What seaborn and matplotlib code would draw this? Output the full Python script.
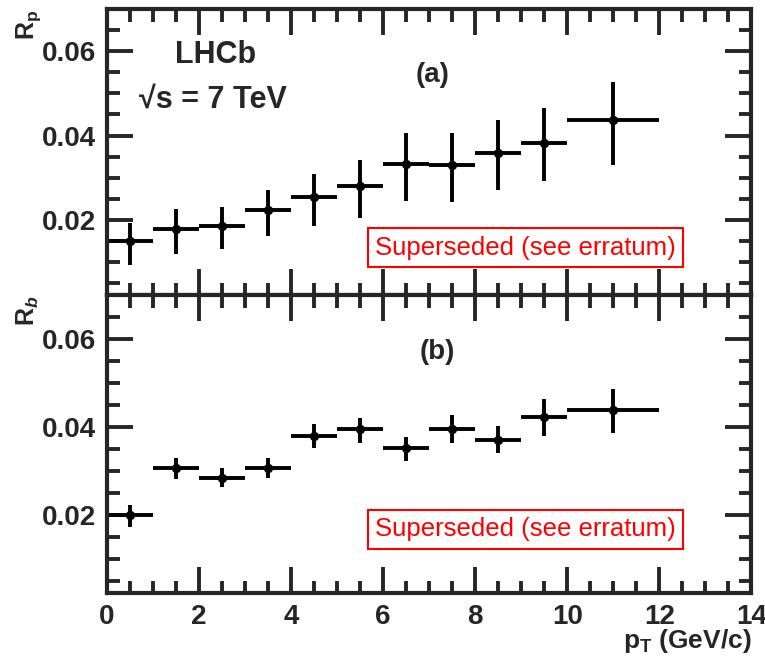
import numpy as np
import matplotlib
matplotlib.use("Agg")
import matplotlib.pyplot as plt
from matplotlib.ticker import MultipleLocator, FormatStrFormatter
import seaborn as sns

# pT bins (GeV/c)
bin_lo = [0, 1, 2, 3, 4, 5, 6, 7, 8, 9, 10]
bin_hi = [1, 2, 3, 4, 5, 6, 7, 8, 9, 10, 12]
pt_center = [0.5, 1.5, 2.5, 3.5, 4.5, 5.5, 6.5, 7.5, 8.5, 9.5, 11.0]

# panel (a): R_p
rp = [0.0150, 0.0179, 0.0185, 0.0223, 0.0254, 0.0281, 0.0332, 0.0331, 0.0359, 0.0382, 0.0437]
rp_up = [0.0193, 0.0226, 0.0231, 0.0272, 0.0310, 0.0343, 0.0406, 0.0406, 0.0437, 0.0465, 0.0527]
rp_dn = [0.0092, 0.0119, 0.0131, 0.0163, 0.0185, 0.0205, 0.0244, 0.0242, 0.0271, 0.0292, 0.0330]

# panel (b): R_b
rb = [0.0200, 0.0306, 0.0284, 0.0307, 0.0380, 0.0394, 0.0351, 0.0396, 0.0371, 0.0423, 0.0438]
rb_up = [0.0223, 0.0328, 0.0306, 0.0330, 0.0406, 0.0421, 0.0377, 0.0426, 0.0402, 0.0464, 0.0486]
rb_dn = [0.0173, 0.0281, 0.0263, 0.0284, 0.0351, 0.0364, 0.0323, 0.0364, 0.0340, 0.0379, 0.0385]

sns.set_style("ticks")
plt.rcParams['font.family'] = ['Liberation Sans', 'DejaVu Sans']
plt.rcParams['font.weight'] = 'bold'
plt.rcParams['mathtext.fontset'] = 'custom'
plt.rcParams['mathtext.rm'] = 'Liberation Sans:bold'
plt.rcParams['mathtext.it'] = 'Liberation Sans:italic:bold'
plt.rcParams['mathtext.bf'] = 'Liberation Sans:bold'

fig = plt.figure(figsize=(7.65, 6.59), dpi=100)
ax_a = fig.add_axes([0.140, 0.5524, 0.842, 0.4339])
ax_b = fig.add_axes([0.140, 0.1002, 0.842, 0.4522])


def draw_panel(ax, y, y_up, y_dn, box_y):
    x = np.array(pt_center)
    y = np.array(y)
    xerr = [x - np.array(bin_lo), np.array(bin_hi) - x]
    yerr = [y - np.array(y_dn), np.array(y_up) - y]
    ax.errorbar(x, y, xerr=xerr, yerr=yerr, fmt='none', ecolor='black',
                elinewidth=2.8, capsize=0)
    sns.scatterplot(x=x, y=y, ax=ax, color='black', s=45, edgecolor='black',
                    linewidth=0, zorder=5)
    ax.set_xlim(0, 14)
    ax.set_ylim(0.0022, 0.070)
    ax.xaxis.set_major_locator(MultipleLocator(2))
    ax.xaxis.set_minor_locator(MultipleLocator(0.5))
    ax.yaxis.set_major_locator(MultipleLocator(0.02))
    ax.yaxis.set_minor_locator(MultipleLocator(0.005))
    ax.yaxis.set_major_formatter(FormatStrFormatter('%.2f'))
    ax.tick_params(which='both', direction='in', top=True, right=True, width=2.8)
    ax.tick_params(which='major', length=19, labelsize=20, pad=8)
    ax.tick_params(which='minor', length=9)
    for s in ax.spines.values():
        s.set_linewidth(3)
    for lab in ax.get_yticklabels() + ax.get_xticklabels():
        lab.set_fontweight('bold')
    ax.text(0.649, box_y, 'Superseded (see erratum)', transform=ax.transAxes,
            color='red', fontsize=18.5, fontweight='normal', ha='center', va='center',
            bbox=dict(boxstyle='square,pad=0.28', facecolor='white', edgecolor='red',
                      linewidth=1.5))


draw_panel(ax_a, rp, rp_up, rp_dn, 0.166)
draw_panel(ax_b, rb, rb_up, rb_dn, 0.213)
ax_a.tick_params(labelbottom=False)

ax_a.text(0.168, 0.84, 'LHCb', transform=ax_a.transAxes, fontsize=22,
          fontweight='bold', ha='center', va='center')
ax_a.text(0.05, 0.685, '\u221as = 7 TeV', transform=ax_a.transAxes, fontsize=22,
          fontweight='bold', ha='left', va='center')
ax_a.text(0.505, 0.77, '(a)', transform=ax_a.transAxes, fontsize=20,
          fontweight='bold', ha='center', va='center')
ax_b.text(0.513, 0.81, '(b)', transform=ax_b.transAxes, fontsize=20,
          fontweight='bold', ha='center', va='center')

fig.text(0.037, 0.985, r'R$_{\mathrm{p}}$', rotation=90, fontsize=18,
         fontweight='bold', ha='center', va='top')
fig.text(0.037, 0.552, r'R$_{b}$', rotation=90, fontsize=18,
         fontweight='bold', ha='center', va='top')
fig.text(0.982, 0.006, r'p$_{\mathrm{T}}$ (GeV/c)', fontsize=19,
         fontweight='bold', ha='right', va='bottom')

fig.savefig('out.png', dpi=100)
